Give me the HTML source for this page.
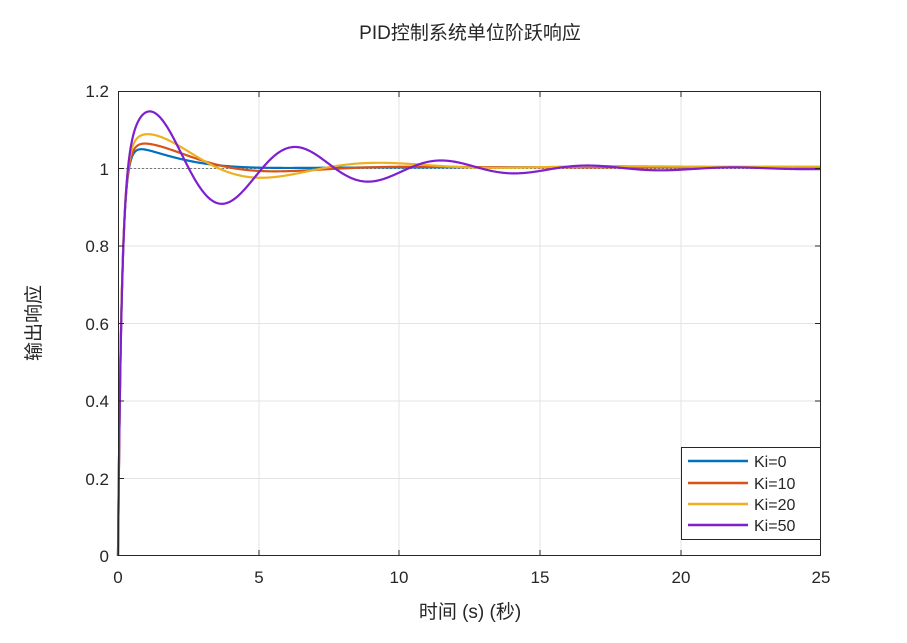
<!DOCTYPE html><html><head><meta charset="utf-8"><style>
body{margin:0;background:#fff;width:907px;height:638px;overflow:hidden}
text{font-family:"Liberation Sans","Noto Sans CJK SC",sans-serif;fill:#262626}
</style></head><body>
<svg id="s" width="907" height="638" xmlns="http://www.w3.org/2000/svg">
<rect x="118" y="91" width="703" height="465" fill="#fff"/>
<g stroke="#e3e3e3" stroke-width="1">
<line x1="259" y1="91" x2="259" y2="556"/><line x1="399" y1="91" x2="399" y2="556"/><line x1="540" y1="91" x2="540" y2="556"/><line x1="681" y1="91" x2="681" y2="556"/>
<line x1="118" y1="168.5" x2="821" y2="168.5"/><line x1="118" y1="246" x2="821" y2="246"/><line x1="118" y1="323.5" x2="821" y2="323.5"/><line x1="118" y1="401" x2="821" y2="401"/><line x1="118" y1="478.5" x2="821" y2="478.5"/>
</g>
<line x1="118" y1="168.5" x2="821" y2="168.5" stroke="#555" stroke-dasharray="2,2" stroke-width="0.8"/>
<g id="curves" fill="none" stroke-width="2.2"></g>
<rect x="118.5" y="91.5" width="702" height="464" fill="none" stroke="#262626" stroke-width="1"/>
<g stroke="#262626"><line x1="259" y1="91" x2="259" y2="97"/><line x1="399" y1="91" x2="399" y2="97"/><line x1="540" y1="91" x2="540" y2="97"/><line x1="681" y1="91" x2="681" y2="97"/>
<line x1="259" y1="556" x2="259" y2="550"/><line x1="399" y1="556" x2="399" y2="550"/><line x1="540" y1="556" x2="540" y2="550"/><line x1="681" y1="556" x2="681" y2="550"/>
<line x1="815" y1="168.5" x2="821" y2="168.5"/><line x1="815" y1="246" x2="821" y2="246"/><line x1="815" y1="323.5" x2="821" y2="323.5"/><line x1="815" y1="401" x2="821" y2="401"/><line x1="815" y1="478.5" x2="821" y2="478.5"/>
<line x1="118" y1="168.5" x2="124" y2="168.5"/><line x1="118" y1="246" x2="124" y2="246"/><line x1="118" y1="323.5" x2="124" y2="323.5"/><line x1="118" y1="401" x2="124" y2="401"/><line x1="118" y1="478.5" x2="124" y2="478.5"/></g>
<g font-size="17" text-anchor="middle">
<text x="118" y="583">0</text><text x="259" y="583">5</text><text x="399" y="583">10</text><text x="540" y="583">15</text><text x="681" y="583">20</text><text x="821" y="583">25</text></g>
<g font-size="17" text-anchor="end">
<text x="109" y="97">1.2</text><text x="109" y="175">1</text><text x="109" y="252">0.8</text><text x="109" y="330">0.6</text><text x="109" y="407">0.4</text><text x="109" y="485">0.2</text><text x="109" y="562">0</text></g>
<text x="470" y="39" font-size="19" text-anchor="middle">PID控制系统单位阶跃响应</text>
<text x="470" y="618" font-size="19" text-anchor="middle">时间 (s) (秒)</text>
<text transform="translate(40,323) rotate(-90)" font-size="19" text-anchor="middle">输出响应</text>
<rect x="681.5" y="447.5" width="139" height="92" fill="#fff" stroke="#262626"/>
<g stroke-width="2.5"><line x1="688" y1="461" x2="748" y2="461" stroke="#0072BD"/><line x1="688" y1="483" x2="748" y2="483" stroke="#D95319"/><line x1="688" y1="504" x2="748" y2="504" stroke="#EDB120"/><line x1="688" y1="525" x2="748" y2="525" stroke="#7E1FD0"/></g>
<g font-size="16"><text x="754" y="467">Ki=0</text><text x="754" y="489">Ki=10</text><text x="754" y="510">Ki=20</text><text x="754" y="531">Ki=50</text></g>
</svg>
<script>
var P=[["#0072BD",0.5,0.6,0.088,0.003,1.5],["#D95319",0.63,0.37,0.095,0.003,1.45],["#EDB120",0.75,0.26,0.115,0.005,1.35],["#7E1FD0",1.208,0.19,0.186,0,1.22]];
var g=document.getElementById("curves");
P.forEach(function(p){var w=p[1],d=p[2],A=p[3],o=p[4],tp=p[5],ph=1.571-w*tp;var s="";
for(var i=0;i<=1000;i++){var t=i*0.025;var y=1-Math.exp(-t/0.13)+o*(1-Math.exp(-t/0.3))+A*Math.exp(-d*t)*Math.sin(w*t+ph)*(1-Math.exp(-t/0.25));
s+=(i?"L":"M")+(118+t*28.12).toFixed(2)+","+(556-y*387.5).toFixed(2);}
var e=document.createElementNS("http://www.w3.org/2000/svg","path");e.setAttribute("d",s);e.setAttribute("stroke",p[0]);g.appendChild(e);});
</script>
</body></html>
